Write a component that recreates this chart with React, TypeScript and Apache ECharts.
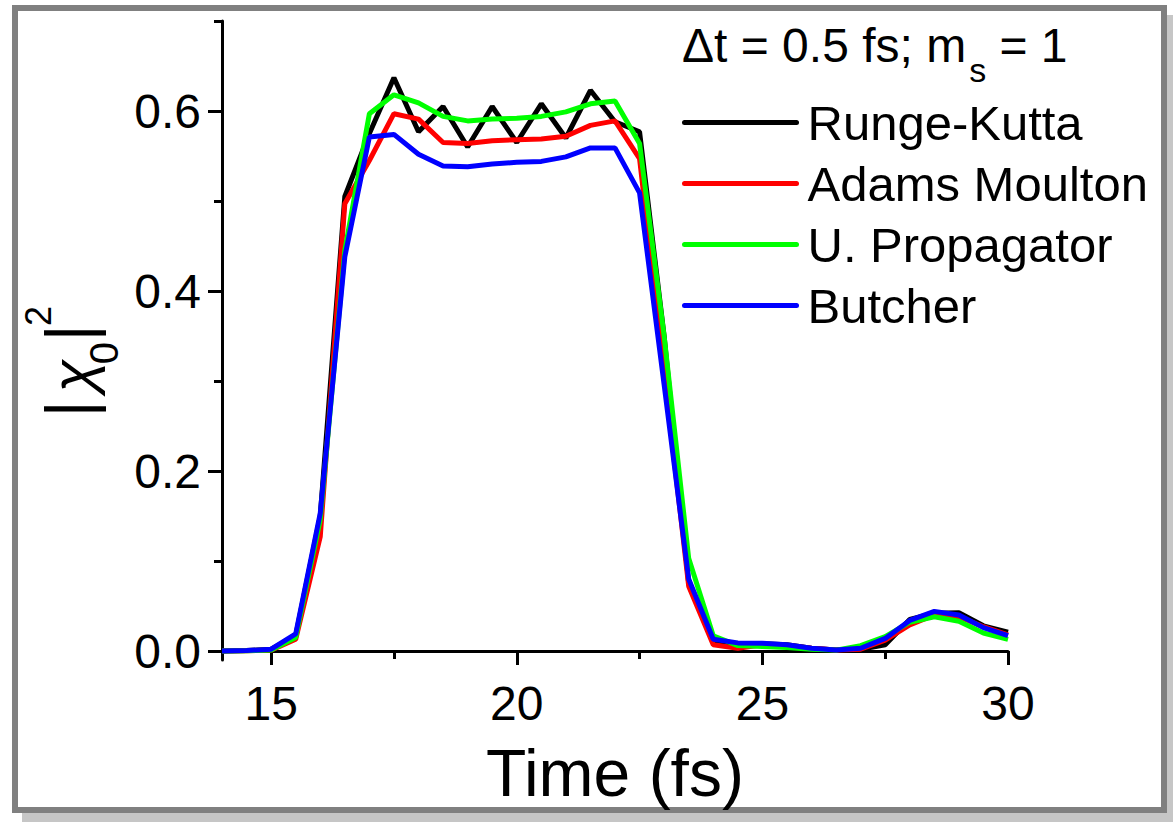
import React, { useEffect, useRef } from "react";
import * as echarts from "echarts";

const times = [
  14, 14.5, 15, 15.5, 16, 16.5, 17, 17.5, 18, 18.5, 19, 19.5, 20, 20.5, 21, 21.5,
  22, 22.5, 23, 23.5, 24, 24.5, 25, 25.5, 26, 26.5, 27, 27.5, 28, 28.5, 29, 29.5, 30,
];

const rungeKutta = [
  0, 0.0005, 0.002, 0.017, 0.15, 0.505, 0.575, 0.637, 0.577, 0.605, 0.56, 0.605, 0.565,
  0.608, 0.57, 0.623, 0.588, 0.577, 0.35, 0.075, 0.01, 0.008, 0.008, 0.007, 0.003, 0.001,
  0.002, 0.007, 0.035, 0.042, 0.0425, 0.028, 0.021,
];
const adamsMoulton = [
  0, 0.0003, 0.001, 0.013, 0.127, 0.497, 0.545, 0.597, 0.591, 0.565, 0.564, 0.567, 0.568,
  0.569, 0.572, 0.584, 0.589, 0.547, 0.31, 0.072, 0.007, 0.003, 0.007, 0.006, 0.003, 0.001,
  0.002, 0.012, 0.029, 0.04, 0.038, 0.027, 0.018,
];
const uPropagator = [
  0, 0.0003, 0.001, 0.015, 0.146, 0.445, 0.597, 0.618, 0.609, 0.594, 0.589, 0.591, 0.592,
  0.594, 0.599, 0.608, 0.611, 0.564, 0.35, 0.103, 0.017, 0.006, 0.005, 0.004, 0.002, 0.001,
  0.006, 0.016, 0.032, 0.038, 0.033, 0.02, 0.013,
];
const butcher = [
  0, 0.0005, 0.002, 0.019, 0.153, 0.438, 0.571, 0.574, 0.552, 0.539, 0.538, 0.541, 0.543,
  0.544, 0.549, 0.559, 0.559, 0.509, 0.296, 0.08, 0.013, 0.009, 0.0085, 0.007, 0.003, 0.001,
  0.003, 0.014, 0.034, 0.044, 0.04, 0.026, 0.017,
];

const seriesNames = ["Runge-Kutta", "Adams Moulton", "U. Propagator", "Butcher"];
const seriesColors = ["#000000", "#ff0000", "#00ff00", "#0000ff"];
const seriesValues = [rungeKutta, adamsMoulton, uPropagator, butcher];

const xMajorTicks = [15, 20, 25, 30];
const xMinorTicks = [17.5, 22.5, 27.5];
const yMajorTicks = [0, 0.2, 0.4, 0.6];
const yMinorTicks = [0.1, 0.3, 0.5, 0.7];

const headerMain = "\u0394t = 0.5 fs; m";
const headerSub = "s";
const headerTail = " = 1";

const FONT = "'Liberation Sans', Arial, Helvetica, sans-serif";
const LINE_W = 5;

function measure(text: string, size: number): number {
  const c = document.createElement("canvas");
  const ctx = c.getContext("2d");
  if (!ctx) return text.length * size * 0.55;
  ctx.font = `${size}px ${FONT}`;
  return ctx.measureText(text).width;
}

export default function App() {
  const ref = useRef<HTMLDivElement>(null);

  useEffect(() => {
    if (!ref.current) return;
    const chart = echarts.init(ref.current, null, { renderer: "svg" });

    const txt = (
      text: string,
      x: number,
      y: number,
      size: number,
      align = "left",
      extra: any = {}
    ) => ({
      type: "text",
      x,
      y,
      z: 100,
      style: {
        text,
        fontSize: size,
        fontFamily: FONT,
        fill: "#000",
        align,
        verticalAlign: "middle",
        ...extra,
      },
    });

    const hSize = 48;
    const hSubSize = 34;
    const hx = 682;
    const wMain = measure(headerMain, hSize);
    const wSub = measure(headerSub, hSubSize);
    const subX = hx + wMain + 3;
    const tailX = subX + wSub;

    const option: any = {
      animation: false,
      backgroundColor: "transparent",
      grid: {
        left: 222,
        right: 165,
        top: 21,
        bottom: 162,
        containLabel: false,
        outerBoundsMode: "none",
      },
      legend: {
        data: seriesNames,
        orient: "vertical",
        left: 682,
        top: 98,
        itemWidth: 112,
        itemHeight: 2,
        itemGap: 12,
        padding: 0,
        lineStyle: { width: LINE_W, cap: "round" },
        itemStyle: { opacity: 0 },
        textStyle: {
          fontSize: 49,
          fontFamily: FONT,
          color: "#000",
          padding: [0, 0, 0, 6],
        },
      },
      xAxis: [
        {
          type: "value",
          min: 14,
          max: 30,
          position: "bottom",
          name: "Time (fs)",
          nameLocation: "middle",
          nameGap: 80,
          nameTextStyle: { fontSize: 66, fontFamily: FONT, color: "#000" },
          axisLine: { show: true, lineStyle: { color: "#000", width: 3 } },
          axisTick: {
            show: true,
            customValues: xMajorTicks,
            length: 14,
            inside: false,
            lineStyle: { color: "#000", width: 3 },
          },
          axisLabel: {
            show: true,
            customValues: xMajorTicks,
            fontSize: 48,
            fontFamily: FONT,
            color: "#000",
            margin: 19,
          },
          splitLine: { show: false },
          minorTick: { show: false },
        },
        {
          type: "value",
          min: 14,
          max: 30,
          position: "bottom",
          axisLine: { show: false },
          axisTick: {
            show: true,
            customValues: xMinorTicks,
            length: 8,
            inside: false,
            lineStyle: { color: "#000", width: 3 },
          },
          axisLabel: { show: false },
          splitLine: { show: false },
        },
      ],
      yAxis: [
        {
          type: "value",
          min: -0.01,
          max: 0.7,
          position: "left",
          axisLine: { show: true, lineStyle: { color: "#000", width: 3 } },
          axisTick: {
            show: true,
            customValues: yMajorTicks,
            length: 14,
            inside: false,
            lineStyle: { color: "#000", width: 3 },
          },
          axisLabel: {
            show: true,
            customValues: yMajorTicks,
            formatter: (v: number) => v.toFixed(1),
            fontSize: 48,
            fontFamily: FONT,
            color: "#000",
            margin: 21,
            padding: [0, 0, 6, 0],
          },
          splitLine: { show: false },
        },
        {
          type: "value",
          min: -0.01,
          max: 0.7,
          position: "left",
          axisLine: { show: false },
          axisTick: {
            show: true,
            customValues: yMinorTicks,
            length: 8,
            inside: false,
            lineStyle: { color: "#000", width: 3 },
          },
          axisLabel: { show: false },
          splitLine: { show: false },
        },
      ],
      series: seriesNames.map((name, k) => ({
        name,
        type: "line",
        xAxisIndex: 0,
        yAxisIndex: 0,
        symbol: "none",
        showSymbol: false,
        color: seriesColors[k],
        lineStyle: { color: seriesColors[k], width: LINE_W },
        data: times.map((t, i) => [t, seriesValues[k][i]]),
        z: 2 + k,
      })),
      graphic: [
        {
          type: "rect",
          z: -100,
          shape: { x: 22, y: 15, width: 1160, height: 820 },
          style: { fill: "#c6c6c6" },
          silent: true,
        },
        {
          type: "rect",
          z: -99,
          shape: { x: 15, y: 8, width: 1149, height: 802 },
          style: { fill: "#ffffff", stroke: "#808080", lineWidth: 6 },
          silent: true,
        },
        {
          type: "group",
          x: 0,
          y: 420,
          rotation: Math.PI / 2,
          z: 100,
          children: [
            txt("|", 11, 69, 66, "center"),
            txt("\u03c7", 44, 72, 60, "center", { fontStyle: "italic" }),
            txt("0", 67, 104, 40, "center"),
            txt("|", 87, 69, 66, "center"),
            txt("2", 104, 38, 36, "center"),
          ],
        },
        txt(headerMain, hx, 45, hSize),
        txt(headerSub, subX, 70, hSubSize),
        txt(headerTail, tailX, 45, hSize),
      ],
    };

    chart.setOption(option);
    return () => chart.dispose();
  }, []);

  return (
    <div
      ref={ref}
      style={{ position: "absolute", left: 0, top: 0, width: 1173, height: 822 }}
    />
  );
}
